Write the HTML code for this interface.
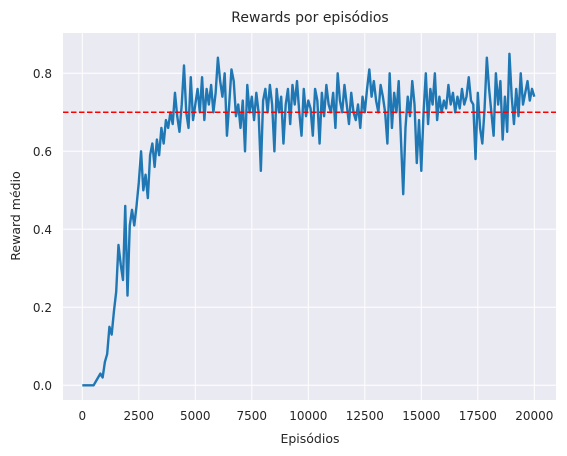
<!DOCTYPE html>
<html><head><meta charset="utf-8"><style>
body{margin:0;background:#fff;}
svg{display:block;font-family:"DejaVu Sans","Liberation Sans",sans-serif;}
</style></head><body>
<svg id="chart" width="567" height="456">
<rect x="63" y="33" width="493" height="367" fill="#eaeaf2"/>
<g id="grid"></g>
<g id="ticks"></g>
<path id="line" fill="none" stroke="#1f77b4" stroke-width="2.4" stroke-linejoin="round"/>
<line id="target" stroke="#ff0000" stroke-width="1.5" stroke-dasharray="5.5,2.5"/>
<text x="310" y="22" text-anchor="middle" font-size="14" fill="#262626">Rewards por episódios</text>
<text x="310" y="443" text-anchor="middle" font-size="12.5" fill="#262626">Episódios</text>
<text x="20" y="216" text-anchor="middle" font-size="12.5" fill="#262626" transform="rotate(-90 20 216)">Reward médio</text>
</svg>
<script>
const xTicks=[0,2500,5000,7500,10000,12500,15000,17500,20000];
const yTicks=[0.0,0.2,0.4,0.6,0.8];
const targetValue=0.7;
const episodeStep=100;
const rewards=[0,0,0,0,0,0,0.01,0.02,0.03,0.02,0.06,0.08,0.15,0.13,0.19,0.24,0.36,0.31,0.27,0.46,
0.23,0.41,0.45,0.41,0.46,0.52,0.60,0.50,0.54,0.48,0.59,0.62,0.56,0.63,0.59,0.66,0.62,0.68,0.66,0.70,
0.67,0.75,0.69,0.65,0.72,0.82,0.70,0.66,0.79,0.68,0.72,0.76,0.70,0.79,0.68,0.76,0.72,0.77,0.70,0.75,
0.84,0.78,0.74,0.80,0.64,0.72,0.81,0.78,0.69,0.72,0.66,0.73,0.60,0.77,0.70,0.74,0.68,0.75,0.70,0.55,
0.73,0.76,0.70,0.77,0.72,0.60,0.76,0.70,0.74,0.62,0.72,0.76,0.67,0.77,0.72,0.78,0.70,0.64,0.76,0.69,
0.73,0.71,0.64,0.76,0.73,0.62,0.75,0.69,0.77,0.72,0.70,0.75,0.66,0.80,0.73,0.70,0.77,0.72,0.67,0.75,
0.70,0.68,0.72,0.66,0.74,0.70,0.76,0.81,0.74,0.78,0.73,0.70,0.77,0.74,0.70,0.62,0.80,0.66,0.75,0.70,
0.78,0.63,0.49,0.66,0.74,0.69,0.78,0.72,0.57,0.68,0.55,0.70,0.80,0.67,0.76,0.72,0.80,0.68,0.74,0.70,
0.73,0.71,0.77,0.72,0.75,0.70,0.74,0.71,0.76,0.72,0.74,0.79,0.73,0.72,0.58,0.75,0.66,0.62,0.71,0.84,
0.76,0.70,0.64,0.80,0.72,0.78,0.63,0.74,0.65,0.85,0.74,0.67,0.76,0.69,0.80,0.72,0.75,0.78,0.73,0.76,0.74];
const X=v=>82.3+v*(452/20000);
const Y=v=>385.3-v*390;
const NS="http://www.w3.org/2000/svg";
const grid=document.getElementById('grid'),ticks=document.getElementById('ticks');
xTicks.forEach(t=>{
 const l=document.createElementNS(NS,'line');
 l.setAttribute('x1',X(t));l.setAttribute('x2',X(t));l.setAttribute('y1',33);l.setAttribute('y2',400);
 l.setAttribute('stroke','#fff');l.setAttribute('stroke-width','1');
 
 
 grid.appendChild(l);
 const tx=document.createElementNS(NS,'text');
 tx.setAttribute('x',X(t));tx.setAttribute('y',420);tx.setAttribute('text-anchor','middle');
 tx.setAttribute('font-size','12');tx.setAttribute('fill','#262626');tx.textContent=t;
 
 
 ticks.appendChild(tx);
});
yTicks.forEach(t=>{
 const l=document.createElementNS(NS,'line');
 l.setAttribute('x1',63);l.setAttribute('x2',556);l.setAttribute('y1',Y(t));l.setAttribute('y2',Y(t));
 l.setAttribute('stroke','#fff');l.setAttribute('stroke-width','1');
 
 
 grid.appendChild(l);
 const tx=document.createElementNS(NS,'text');
 tx.setAttribute('x',52);tx.setAttribute('y',Y(t)+4.5);tx.setAttribute('text-anchor','end');
 tx.setAttribute('font-size','12');tx.setAttribute('fill','#262626');tx.textContent=t.toFixed(1);
 
 
 ticks.appendChild(tx);
});
document.getElementById('line').setAttribute('d',rewards.map((v,i)=>(i?'L':'M')+X(i*episodeStep).toFixed(2)+','+Y(v).toFixed(2)).join(''));
const tg=document.getElementById('target');
tg.setAttribute('x1',63);tg.setAttribute('x2',556);tg.setAttribute('y1',Y(targetValue));tg.setAttribute('y2',Y(targetValue));
</script>
</body></html>
